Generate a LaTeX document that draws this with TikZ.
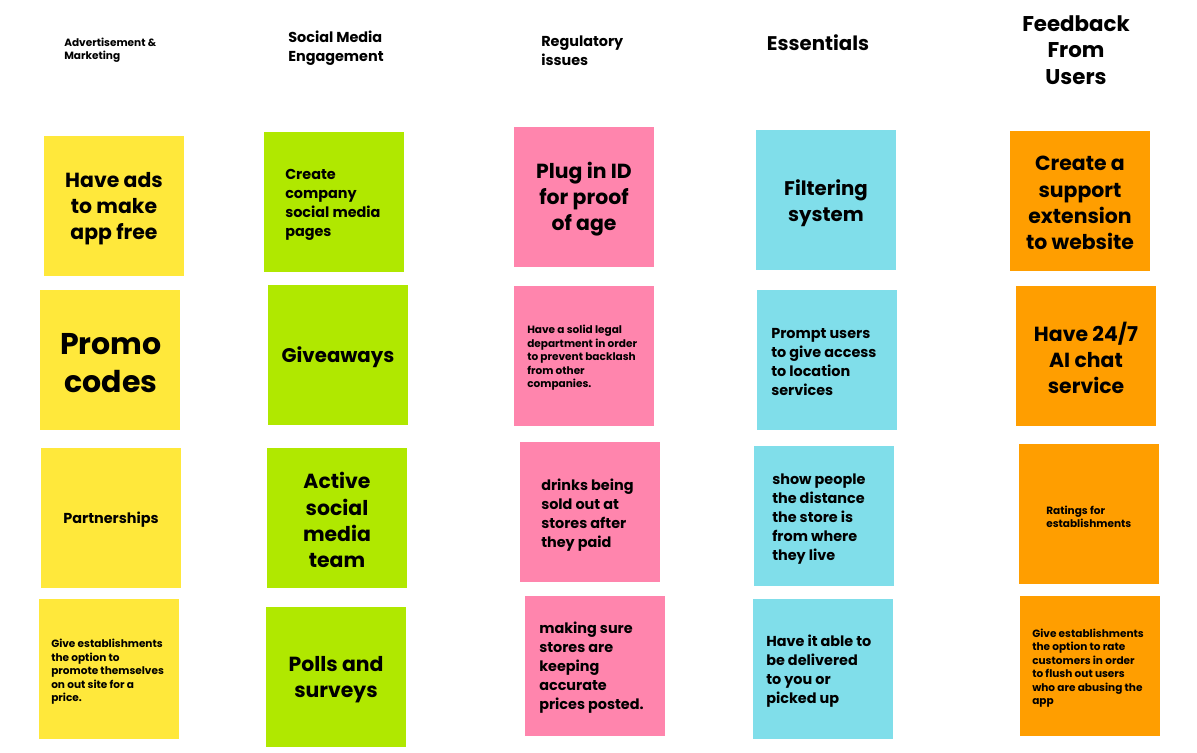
\documentclass[tikz,border=0pt]{standalone}
\usepackage{fontspec}
\setmainfont{Poppins Bold}
\definecolor{stickyyellow}{HTML}{FFE83B}
\definecolor{stickygreen}{HTML}{B0E800}
\definecolor{stickypink}{HTML}{FF85AD}
\definecolor{stickycyan}{HTML}{80DEEA}
\definecolor{stickyorange}{HTML}{FF9E00}
\tikzset{
  sticky/.style={rectangle, draw=none, minimum width=105pt, minimum height=105pt, inner sep=0pt},
  ctext/.style={align=center, inner sep=0pt, text=black, yshift=-2.25pt},
  ltext/.style={align=left, anchor=west, inner sep=0pt, text=black, yshift=-2.25pt},
  fsmall/.style={font=\fontsize{7.9pt}{10.1pt}\selectfont},
  fmid/.style={font=\fontsize{10.8pt}{14.2pt}\selectfont},
  fhead/.style={font=\fontsize{14.8pt}{19.6pt}\selectfont},
  flarge/.style={font=\fontsize{15.3pt}{19.6pt}\selectfont},
  ftitle/.style={font=\fontsize{16pt}{19.9pt}\selectfont},
  fhuge/.style={font=\fontsize{22.5pt}{28.5pt}\selectfont},
}
\begin{document}
\begin{tikzpicture}[x=0.75pt, y=-0.75pt]
\useasboundingbox[fill=white] (0,0) rectangle (1197,753);

% column headings
\node[ltext, fsmall] (h1) at (64,47) {Advertisement \&\\Marketing};
\node[ltext, fmid] (h2) at (288,45) {Social Media\\Engagement};
\node[ltext, fmid] (h3) at (541,48) {Regulatory\\issues};
\node[ctext, fhead] (h4) at (818,40) {Essentials};
\node[ctext, ftitle] (h5) at (1076,47) {Feedback\\From\\Users};

% advertisement & marketing
\node[sticky, fill=stickyyellow] (a1) at (114,206) {};
\node[sticky, fill=stickyyellow] (a2) at (110,360) {};
\node[sticky, fill=stickyyellow] (a3) at (111,518) {};
\node[sticky, fill=stickyyellow] (a4) at (109,669) {};
\node[ctext, flarge] (ta1) at (114,206) {Have ads\\to make\\app free};
\node[ctext, fhuge] (ta2) at (111,360) {Promo\\codes};
\node[ctext, fmid] (ta3) at (111,517) {Partnerships};
\node[ltext, fsmall] (ta4) at (51,669) {Give establishments\\the option to\\promote themselves\\on out site for a\\price.};

% social media engagement
\node[sticky, fill=stickygreen] (b1) at (334,202) {};
\node[sticky, fill=stickygreen] (b2) at (338,355) {};
\node[sticky, fill=stickygreen] (b3) at (337,518) {};
\node[sticky, fill=stickygreen] (b4) at (336,677) {};
\node[ltext, fmid] (tb1) at (285,202) {Create\\company\\social media\\pages};
\node[ctext, fhead] (tb2) at (338,354) {Giveaways};
\node[ctext, flarge] (tb3) at (337,517) {Active\\social\\media\\team};
\node[ctext, flarge] (tb4) at (336,677) {Polls and\\surveys};

% regulatory issues
\node[sticky, fill=stickypink] (c1) at (584,197) {};
\node[sticky, fill=stickypink] (c2) at (584,356) {};
\node[sticky, fill=stickypink] (c3) at (590,512) {};
\node[sticky, fill=stickypink] (c4) at (595,666) {};
\node[ctext, flarge] (tc1) at (584,196) {Plug in ID\\for proof\\of age};
\node[ltext, fsmall] (tc2) at (527,355) {Have a solid legal\\department in order\\to prevent backlash\\from other\\companies.};
\node[ltext, fmid] (tc3) at (541,512) {drinks being\\sold out at\\stores after\\they paid};
\node[ltext, fmid] (tc4) at (539,665) {making sure\\stores are\\keeping\\accurate\\prices posted.};

% essentials
\node[sticky, fill=stickycyan] (d1) at (826,200) {};
\node[sticky, fill=stickycyan] (d2) at (827,360) {};
\node[sticky, fill=stickycyan] (d3) at (824,516) {};
\node[sticky, fill=stickycyan] (d4) at (823,669) {};
\node[ctext, fhead] (td1) at (826,200) {Filtering\\system};
\node[ltext, fmid] (td2) at (771,359) {Prompt users\\to give access\\to location\\services};
\node[ltext, fmid] (td3) at (772,516) {show people\\the distance\\the store is\\from where\\they live};
\node[ltext, fmid] (td4) at (766,668) {Have it able to\\be delivered\\to you or\\picked up};

% feedback from users
\node[sticky, fill=stickyorange] (e1) at (1080,201) {};
\node[sticky, fill=stickyorange] (e2) at (1086,356) {};
\node[sticky, fill=stickyorange] (e3) at (1089,514) {};
\node[sticky, fill=stickyorange] (e4) at (1090,666) {};
\node[ctext, flarge] (te1) at (1080,200) {Create a\\support\\extension\\to website};
\node[ctext, flarge] (te2) at (1086,355) {Have 24/7\\AI chat\\service};
\node[ltext, fsmall] (te3) at (1046,514) {Ratings for\\establishments};
\node[ltext, fsmall] (te4) at (1032,665) {Give establishments\\the option to rate\\customers in order\\to flush out users\\who are abusing the\\app};
\end{tikzpicture}
\end{document}
